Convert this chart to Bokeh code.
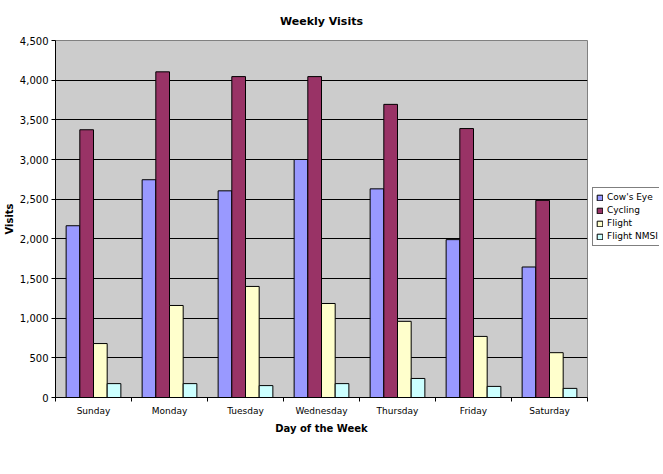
from bokeh.plotting import figure
from bokeh.layouts import row
from bokeh.models import Range1d, FixedTicker, NumeralTickFormatter, Legend, LegendItem
from bokeh.embed import file_html
from bokeh.resources import INLINE

# ---- data ----
days = ["Sunday", "Monday", "Tuesday", "Wednesday", "Thursday", "Friday", "Saturday"]
cows_eye = [2165, 2745, 2605, 3000, 2630, 1990, 1645]
cycling = [3375, 4105, 4045, 4045, 3695, 3390, 2485]
flight = [680, 1160, 1400, 1185, 960, 770, 565]
flight_nmsi = [175, 175, 150, 175, 240, 140, 115]
series_names = ["Cow's Eye", "Cycling", "Flight", "Flight NMSI"]
y_ticks = [0, 500, 1000, 1500, 2000, 2500, 3000, 3500, 4000, 4500]

# ---- styles ----
colors = ["#9999FF", "#993366", "#FFFFCC", "#CCFFFF"]
offsets = [-0.27, -0.09, 0.09, 0.27]
bar_w = 0.18
FONT = "DejaVu Sans"

p = figure(frame_width=532, frame_height=357, output_backend="svg", toolbar_location=None,
           x_range=Range1d(0, len(days)), y_range=Range1d(0, 4500),
           min_border_left=43, min_border_right=2, min_border_top=40, min_border_bottom=54,
           title="Weekly Visits")
p.background_fill_color = "#CCCCCC"
p.border_fill_color = "white"
p.outline_line_color = "#808080"

p.title.align = "center"
p.title.text_font = FONT
p.title.text_font_size = "11px"
p.title.text_font_style = "bold"
p.title.text_color = "black"
p.title.standoff = 25

series = [cows_eye, cycling, flight, flight_nmsi]
for k, vals in enumerate(series):
    xs = [i + 0.5 + offsets[k] for i in range(len(days))]
    p.vbar(x=xs, top=vals, bottom=0, width=bar_w,
           fill_color=colors[k], line_color="black", line_width=1)

# x axis: labels at centres, ticks at category boundaries
centers = [i + 0.5 for i in range(len(days))]
bounds = list(range(len(days) + 1))
p.xaxis.ticker = FixedTicker(ticks=centers, minor_ticks=bounds)
p.xaxis.major_label_overrides = {c: d for c, d in zip(centers, days)}
p.xaxis.major_tick_line_color = None
p.xaxis.major_tick_out = 0
p.xaxis.major_tick_in = 0
p.xaxis.minor_tick_out = 4
p.xaxis.minor_tick_in = 0
p.xaxis.minor_tick_line_color = "black"
p.xaxis.axis_line_color = "black"
p.xaxis.major_label_standoff = 4
p.xaxis.major_label_text_font = FONT
p.xaxis.major_label_text_font_size = "9px"
p.xaxis.major_label_text_color = "black"
p.xaxis.axis_label = "Day of the Week"
p.xaxis.axis_label_text_font = FONT
p.xaxis.axis_label_text_font_size = "10px"
p.xaxis.axis_label_text_font_style = "bold"
p.xaxis.axis_label_text_color = "black"
p.xaxis.axis_label_standoff = 4
p.xgrid.visible = False

p.yaxis.ticker = FixedTicker(ticks=y_ticks)
p.yaxis.formatter = NumeralTickFormatter(format="0,0")
p.yaxis.major_tick_out = 4
p.yaxis.major_tick_in = 0
p.yaxis.minor_tick_line_color = None
p.yaxis.axis_line_color = "black"
p.yaxis.major_label_standoff = 3
p.yaxis.major_label_text_font = FONT
p.yaxis.major_label_text_font_size = "10px"
p.yaxis.major_label_text_color = "black"
p.yaxis.axis_label = "Visits"
p.yaxis.axis_label_text_font = FONT
p.yaxis.axis_label_text_font_size = "10px"
p.yaxis.axis_label_text_font_style = "bold"
p.yaxis.axis_label_text_color = "black"
p.yaxis.axis_label_standoff = 2
p.ygrid.ticker = FixedTicker(ticks=y_ticks[1:-1])
p.ygrid.grid_line_color = "black"
p.ygrid.grid_line_width = 1

# legend panel (separate small figure beside the chart; its bars lie outside its view)
p2 = figure(width=70, height=40 + 357 + 54, output_backend="svg", toolbar_location=None,
            x_range=Range1d(-20, -19), y_range=Range1d(0, 1),
            x_axis_type=None, y_axis_type=None,
            min_border_left=0, min_border_right=0, min_border_top=0, min_border_bottom=0)
p2.outline_line_color = None
p2.background_fill_color = None
p2.border_fill_color = "white"
p2.xgrid.visible = False
p2.ygrid.visible = False
items = []
for k, vals in enumerate(series):
    xs = [i + 0.5 + offsets[k] for i in range(len(days))]
    r = p2.vbar(x=xs, top=vals, bottom=0, width=bar_w,
                fill_color=colors[k], line_color="black")
    items.append(LegendItem(label=series_names[k], renderers=[r]))
legend = Legend(items=items, location=(3, 151), padding=3, spacing=1, margin=0,
                glyph_width=7, glyph_height=7, label_height=12, label_standoff=4,
                label_text_font=FONT, label_text_font_size="9px",
                label_text_color="black",
                border_line_color="black", border_line_width=1,
                background_fill_color="white", background_fill_alpha=1.0)
p2.add_layout(legend, "center")

layout = row(p, p2)
open("out.html", "w").write(file_html(layout, INLINE))
